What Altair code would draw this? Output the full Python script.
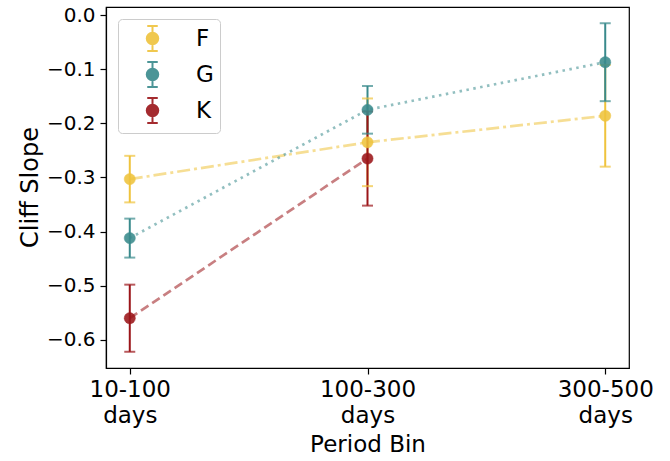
import altair as alt
import pandas as pd

bins = ["10-100 days", "100-300 days", "300-500 days"]
classes = ["F", "G", "K"]
colors = ["#EFC33C", "#398A8C", "#9B1519"]
dashes = [[13, 4, 3, 4], [2.5, 4.5], [9, 4.5]]

f_mean = [-0.303, -0.235, -0.186]
f_err = [0.043, 0.081, 0.094]
g_mean = [-0.412, -0.175, -0.087]
g_err = [0.036, 0.044, 0.072]
k_mean = [-0.560, -0.265]
k_err = [0.062, 0.087]

rows = []
for cls, means, errs in [("F", f_mean, f_err), ("G", g_mean, g_err), ("K", k_mean, k_err)]:
    for b, m, e in zip(bins, means, errs):
        rows.append({"cls": cls, "bin": b, "mean": m, "lo": m - e, "hi": m + e})
df = pd.DataFrame(rows)

FONT = "DejaVu Sans"

xaxis = alt.Axis(
    title="Period Bin", labelAngle=0, labelExpr="split(datum.label, ' ')",
    labelFontSize=23, labelLineHeight=26, labelPadding=4, labelBaseline="top",
    titleFontSize=23, titleFontWeight="normal", titleY=76, titleBaseline="middle",
)
yaxis = alt.Axis(
    title="Cliff Slope", values=[-0.6, -0.5, -0.4, -0.3, -0.2, -0.1, 0.0], format=".1f",
    labelFontSize=20, labelPadding=5, titleFontSize=24, titleFontWeight="normal",
    titleX=-76, titleY=180, titleBaseline="middle", titleAlign="center", titleAngle=-90,
)
xs = alt.Scale(type="point", padding=0.1)
ys = alt.Scale(domain=[-0.652, 0.015], nice=False, zero=False)
cscale = alt.Scale(domain=classes, range=colors)

X = alt.X("bin:N", sort=bins, scale=xs, axis=xaxis)

sym = ("M0,-1V1M-0.42,-1H0.42M-0.42,1H0.42"
       "M0.46,0A0.46,0.46,0,1,1,-0.46,0A0.46,0.46,0,1,1,0.46,0Z")
legend = alt.Legend(
    title=None, orient="none", legendX=12, legendY=12, symbolType=sym,
    symbolSize=625, symbolStrokeWidth=2, symbolOpacity=0.9,
    labelFontSize=23, labelFont=FONT, labelColor="black", labelOffset=30,
    symbolOffset=15, rowPadding=3, padding=6, strokeColor="#cccccc",
    fillColor="white", cornerRadius=4,
)
C = alt.Color("cls:N", scale=cscale, legend=legend)

base = alt.Chart(df)

line_layers = []
for cls, col, dash in zip(classes, colors, dashes):
    line_layers.append(
        base.transform_filter(alt.datum.cls == cls).mark_line(
            strokeWidth=2.7, opacity=0.55, color=col, strokeDash=dash
        ).encode(
            x=X,
            y=alt.Y("mean:Q", scale=ys, axis=yaxis),
        )
    )

rules = base.mark_rule(strokeWidth=2).encode(
    x=X,
    y=alt.Y("lo:Q", scale=ys, axis=yaxis),
    y2="hi:Q",
    color=C,
)

caps_lo = base.mark_tick(thickness=2, size=11).encode(
    x=X,
    y=alt.Y("lo:Q", scale=ys, axis=yaxis),
    color=C,
)
caps_hi = base.mark_tick(thickness=2, size=11).encode(
    x=X,
    y=alt.Y("hi:Q", scale=ys, axis=yaxis),
    color=C,
)

points = base.mark_circle(size=125, opacity=0.88, strokeWidth=0.5).encode(
    x=X,
    y=alt.Y("mean:Q", scale=ys, axis=yaxis),
    color=C,
    stroke=alt.Stroke("cls:N", scale=cscale, legend=legend),
)

chart = alt.layer(*line_layers, rules, caps_lo, caps_hi, points).properties(
    width=523, height=361,
    padding={"left": 106, "top": 7, "right": 41, "bottom": 93},
    autosize=alt.AutoSizeParams(type="none"),
).configure_view(
    stroke="black", strokeWidth=1.2
).configure_axis(
    grid=False, domainColor="black", domainWidth=1.2, tickColor="black",
    tickSize=6, tickWidth=1.2, labelColor="black", titleColor="black",
    labelFont=FONT, titleFont=FONT,
)

chart.save("out.html", embed_options={"renderer": "svg", "actions": False})
